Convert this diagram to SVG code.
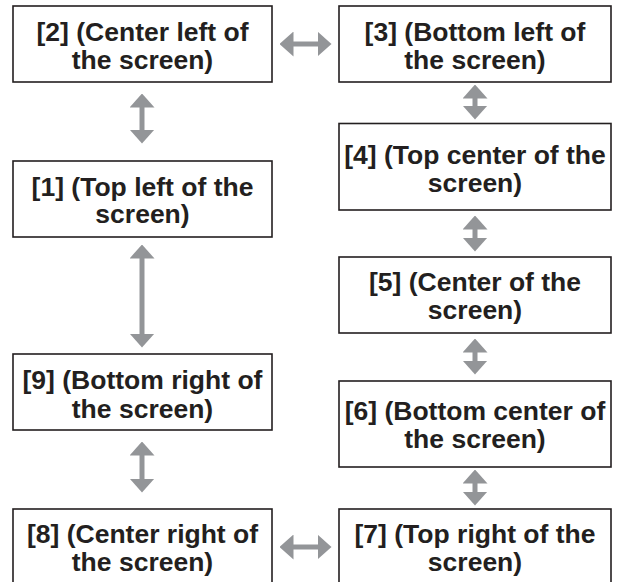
<svg xmlns="http://www.w3.org/2000/svg" width="622" height="582" viewBox="0 0 622 582">
<defs>
<style>
.box{fill:#ffffff;stroke:#231f20;stroke-width:1.6}
.lbl{font-family:"Liberation Sans",Arial,Helvetica,sans-serif;font-weight:bold;font-size:26.5px;fill:#231f20;text-anchor:middle}
.conn{stroke:#939598;stroke-width:5;fill:none;marker-start:url(#head);marker-end:url(#head)}
</style>
<marker id="head" viewBox="0 -12.5 14 25" markerWidth="14" markerHeight="25" refX="0.5" refY="0" orient="auto-start-reverse" markerUnits="userSpaceOnUse">
<path d="M0,-12.5 L14,0 L0,12.5 Z" fill="#939598"/>
</marker>
</defs>
<rect width="622" height="582" fill="#ffffff"/>
<g id="connectors">
<line class="conn" x1="142" y1="107" x2="142" y2="130"/>
<line class="conn" x1="142" y1="258" x2="142" y2="334"/>
<line class="conn" x1="142" y1="455" x2="142" y2="479"/>
<line class="conn" x1="293" y1="44" x2="318" y2="44"/>
<line class="conn" x1="293" y1="547" x2="318" y2="547"/>
<line class="conn" x1="475" y1="98" x2="475" y2="106"/>
<line class="conn" x1="475" y1="229" x2="475" y2="238"/>
<line class="conn" x1="475" y1="352" x2="475" y2="361"/>
<line class="conn" x1="475" y1="483" x2="475" y2="492"/>
</g>
<g id="n2">
<rect class="box" x="13" y="6" width="259" height="76"/>
<text class="lbl" x="142.5" y="40.5">[2] (Center left of</text>
<text class="lbl" x="142.5" y="68.5">the screen)</text>
</g>
<g id="n1">
<rect class="box" x="13" y="161" width="259" height="76"/>
<text class="lbl" x="142.5" y="195.5">[1] (Top left of the</text>
<text class="lbl" x="142.5" y="223">screen)</text>
</g>
<g id="n9">
<rect class="box" x="13" y="354" width="259" height="76"/>
<text class="lbl" x="142.5" y="389">[9] (Bottom right of</text>
<text class="lbl" x="142.5" y="417.5">the screen)</text>
</g>
<g id="n8">
<rect class="box" x="13" y="509" width="259" height="76"/>
<text class="lbl" x="142.5" y="542.5">[8] (Center right of</text>
<text class="lbl" x="142.5" y="570.5">the screen)</text>
</g>
<g id="n3">
<rect class="box" x="339" y="6" width="272" height="76"/>
<text class="lbl" x="475" y="40.5">[3] (Bottom left of</text>
<text class="lbl" x="475" y="68.5">the screen)</text>
</g>
<g id="n4">
<rect class="box" x="339" y="123.5" width="272" height="86.5"/>
<text class="lbl" x="475" y="164">[4] (Top center of the</text>
<text class="lbl" x="475" y="192">screen)</text>
</g>
<g id="n5">
<rect class="box" x="339" y="257" width="272" height="76"/>
<text class="lbl" x="475" y="290.5">[5] (Center of the</text>
<text class="lbl" x="475" y="318.5">screen)</text>
</g>
<g id="n6">
<rect class="box" x="339" y="381" width="272" height="86"/>
<text class="lbl" x="475" y="420">[6] (Bottom center of</text>
<text class="lbl" x="475" y="447.5">the screen)</text>
</g>
<g id="n7">
<rect class="box" x="339" y="509" width="272" height="76"/>
<text class="lbl" x="475" y="542.5">[7] (Top right of the</text>
<text class="lbl" x="475" y="570.5">screen)</text>
</g>
</svg>
